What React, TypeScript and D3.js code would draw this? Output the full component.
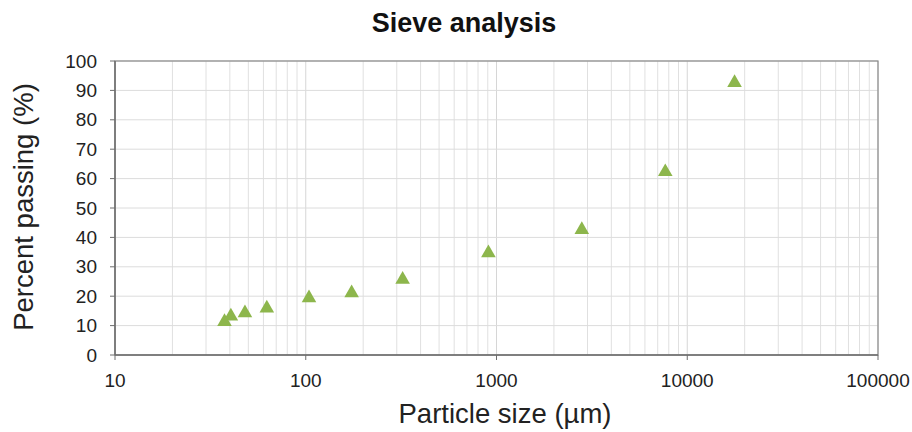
import React from "react";
import * as d3 from "d3";

const sizes = [37.5, 40.5, 48, 62.5, 104, 174, 322, 907, 2800, 7670, 17700];
const passing = [11.3, 13.2, 14.3, 15.9, 19.4, 21.1, 25.7, 34.7, 42.6, 62.3, 92.6];
const xTicks = [10, 100, 1000, 10000, 100000];
const yTicks = [0, 10, 20, 30, 40, 50, 60, 70, 80, 90, 100];

const W = 912, H = 432;
const L = 115, R = 878, T = 61, B = 355;

export default function App() {
  const x = d3.scaleLog().domain([10, 100000]).range([L, R]);
  const y = d3.scaleLinear().domain([0, 100]).range([B, T]);
  const minor: number[] = [];
  for (let d = 10; d < 100000; d *= 10) for (let k = 2; k <= 9; k++) minor.push(d * k);
  const tri = d3.symbol().type(d3.symbolTriangle).size(92)();
  const font = "'Liberation Sans', Arial, sans-serif";
  return (
    <svg width={W} height={H} style={{ position: "absolute", left: 0, top: 0 }} fontFamily={font}>
      <rect width={W} height={H} fill="#fff" />
      {minor.map((v) => (
        <line key={"m" + v} x1={x(v)} x2={x(v)} y1={T} y2={B} stroke="#e0e0e0" strokeWidth={1} />
      ))}
      {xTicks.map((v) => (
        <line key={"g" + v} x1={x(v)} x2={x(v)} y1={T} y2={B} stroke="#d6d6d6" strokeWidth={1} />
      ))}
      {yTicks.map((v) => (
        <line key={"h" + v} x1={L} x2={R} y1={y(v)} y2={y(v)} stroke="#dcdcdc" strokeWidth={1} />
      ))}
      <rect x={L} y={T} width={R - L} height={B - T} fill="none" stroke="#8a8a8a" strokeWidth={1.2} />
      <line x1={L} x2={L} y1={T} y2={B} stroke="#6e6e6e" strokeWidth={1.5} />
      <line x1={L} x2={R} y1={B} y2={B} stroke="#6e6e6e" strokeWidth={1.5} />
      {yTicks.map((v) => (
        <g key={"yt" + v}>
          <line x1={L - 5} x2={L} y1={y(v)} y2={y(v)} stroke="#6e6e6e" strokeWidth={1} />
          <text x={L - 18} y={y(v)} dy="0.35em" textAnchor="end" fontSize={19} fill="#222">{v}</text>
        </g>
      ))}
      {xTicks.map((v) => (
        <g key={"xt" + v}>
          <line x1={x(v)} x2={x(v)} y1={B} y2={B + 5} stroke="#6e6e6e" strokeWidth={1} />
          <text x={x(v)} y={387} textAnchor="middle" fontSize={19} fill="#222">{v}</text>
        </g>
      ))}
      {sizes.map((s, i) => (
        <path key={"p" + i} d={tri!} transform={`translate(${x(s)},${y(passing[i])})`} fill="#8db64c" />
      ))}
      <text x={464} y={32} textAnchor="middle" fontSize={27} fontWeight="bold" fill="#111">Sieve analysis</text>
      <text x={505} y={423} textAnchor="middle" fontSize={27.5} fill="#222">Particle size (µm)</text>
      <text transform={`translate(33,207) rotate(-90)`} textAnchor="middle" fontSize={27.5} fill="#222">Percent passing (%)</text>
    </svg>
  );
}
